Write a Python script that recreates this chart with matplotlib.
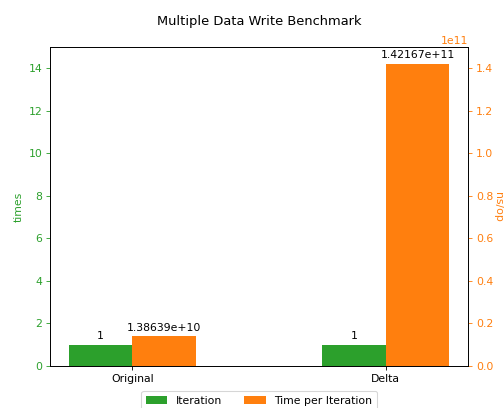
import matplotlib
matplotlib.use('Agg')
import matplotlib.pyplot as plt
import numpy as np

categories = ['Original', 'Delta']
iterations = [1, 1]
time_per_iter = [1.38639e10, 1.42167e11]

x = np.arange(len(categories))
width = 0.25

fig, ax1 = plt.subplots(figsize=(504 / 78, 408 / 78), dpi=78)
fig.subplots_adjust(left=0.099, right=0.929, top=0.885, bottom=0.103)
ax2 = ax1.twinx()

b1 = ax1.bar(x - width / 2, iterations, width, color='tab:green', label='Iteration')
b2 = ax2.bar(x + width / 2, time_per_iter, width, color='tab:orange', label='Time per Iteration')

ax1.bar_label(b1, padding=3)
ax2.bar_label(b2, padding=3)

ax1.set_ylim(0, 15)
ax2.set_ylim(0, 1.5e11)
ax1.set_xticks(x)
ax1.set_xticklabels(categories)

ax1.set_ylabel('times', color='tab:green')
ax2.set_ylabel('ns/op', color='tab:orange', rotation=270, labelpad=9)
ax1.tick_params(axis='y', colors='tab:green')
ax2.tick_params(axis='y', colors='tab:orange')
ax2.yaxis.get_offset_text().set_color('tab:orange')

plt.title('Multiple Data Write Benchmark', pad=20)
ax2.legend([b1, b2], ['Iteration', 'Time per Iteration'], loc='upper center',
           bbox_to_anchor=(0.5, -0.062), ncol=2)

plt.savefig('out.png')
